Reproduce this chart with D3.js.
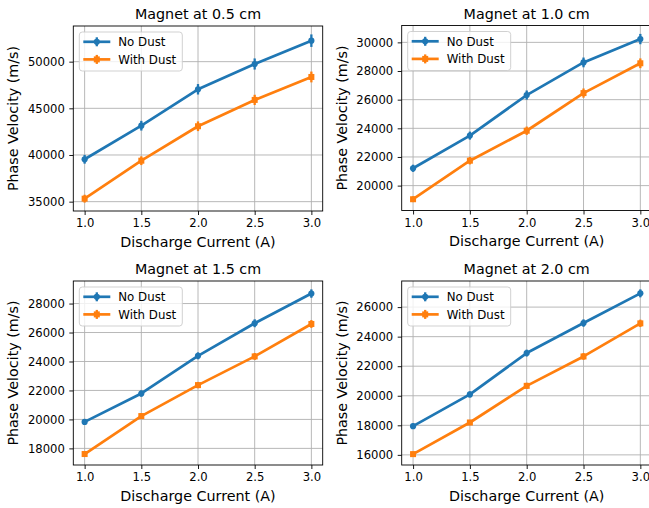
<!DOCTYPE html>
<html>
<head>
<meta charset="utf-8">
<script src="https://cdn.jsdelivr.net/npm/d3@7"></script>
<style>
  body { margin: 0; background: #fff; }
  svg { display: block; font-family: "DejaVu Sans", sans-serif; }
</style>
</head>
<body>
<svg id="chart" width="649" height="508"></svg>
<script>
// ---- data ----
const currents = [1.0, 1.5, 2.0, 2.5, 3.0];
const xTicks = [1.0, 1.5, 2.0, 2.5, 3.0];
const titles = ["Magnet at 0.5 cm", "Magnet at 1.0 cm", "Magnet at 1.5 cm", "Magnet at 2.0 cm"];
const seriesNames = ["No Dust", "With Dust"];

const noDust05   = [39540, 43140, 47040, 49750, 52250];
const withDust05 = [35320, 39390, 43080, 45900, 48360];
const errNoDust05   = [470, 520, 560, 600, 670];
const errWithDust05 = [420, 470, 520, 550, 580];

const noDust10   = [21210, 23490, 26320, 28600, 30230];
const withDust10 = [19050, 21740, 23830, 26460, 28540];
const errNoDust10   = [250, 280, 320, 340, 360];
const errWithDust10 = [200, 260, 290, 320, 340];

const noDust15   = [19830, 21790, 24390, 26640, 28690];
const withDust15 = [17610, 20230, 22370, 24350, 26590];
const errNoDust15   = [200, 220, 240, 270, 290];
const errWithDust15 = [180, 200, 220, 240, 270];

const noDust20   = [17940, 20090, 22890, 24920, 26930];
const withDust20 = [16050, 18190, 20670, 22660, 24900];
const errNoDust20   = [180, 200, 230, 250, 270];
const errWithDust20 = [170, 180, 210, 230, 250];

const yTicks05 = [35000, 40000, 45000, 50000];
const yTicks10 = [20000, 22000, 24000, 26000, 28000, 30000];
const yTicks15 = [18000, 20000, 22000, 24000, 26000, 28000];
const yTicks20 = [16000, 18000, 20000, 22000, 24000, 26000];

// ---- layout / style ----
const colors = ["#1f77b4", "#ff7f0e"];
const panels = [
  { title: titles[0], series: [[noDust05, errNoDust05], [withDust05, errWithDust05]], yTicks: yTicks05, left: 73.3, top: 26, width: 249.4, height: 185 },
  { title: titles[1], series: [[noDust10, errNoDust10], [withDust10, errWithDust10]], yTicks: yTicks10, left: 401.7, top: 25.5, width: 250, height: 185 },
  { title: titles[2], series: [[noDust15, errNoDust15], [withDust15, errWithDust15]], yTicks: yTicks15, left: 73.3, top: 281, width: 249.4, height: 184 },
  { title: titles[3], series: [[noDust20, errNoDust20], [withDust20, errWithDust20]], yTicks: yTicks20, left: 401.7, top: 281, width: 250, height: 184 }
];

const svg = d3.select("#chart");
const tickFont = 11.6, labelFont = 14.3, legendFont = 11.8;

panels.forEach(p => {
  const g = svg.append("g").attr("transform", `translate(${p.left},${p.top})`);
  const W = p.width, H = p.height;

  const xMin = d3.min(currents), xMax = d3.max(currents);
  const xPad = (xMax - xMin) * 0.05;
  const x = d3.scaleLinear().domain([xMin - xPad, xMax + xPad]).range([0, W]);

  let lo = Infinity, hi = -Infinity;
  p.series.forEach(([v, e]) => v.forEach((d, i) => { lo = Math.min(lo, d - e[i]); hi = Math.max(hi, d + e[i]); }));
  const yPad = (hi - lo) * 0.05;
  const y = d3.scaleLinear().domain([lo - yPad, hi + yPad]).range([H, 0]);

  // grid
  const grid = g.append("g");
  grid.selectAll(".gx").data(xTicks).enter().append("line")
    .attr("x1", d => x(d)).attr("x2", d => x(d)).attr("y1", 0).attr("y2", H)
    .attr("stroke", "#b0b0b0").attr("stroke-width", 0.9);
  grid.selectAll(".gy").data(p.yTicks).enter().append("line")
    .attr("y1", d => y(d)).attr("y2", d => y(d)).attr("x1", 0).attr("x2", W)
    .attr("stroke", "#b0b0b0").attr("stroke-width", 0.9);

  // axes
  const xAxis = d3.axisBottom(x).tickValues(xTicks).tickFormat(d3.format(".1f")).tickSize(4).tickPadding(4);
  const yAxis = d3.axisLeft(y).tickValues(p.yTicks).tickFormat(d3.format("d")).tickSize(4).tickPadding(4.5);
  const gx = g.append("g").attr("transform", `translate(0,${H})`).call(xAxis);
  const gy = g.append("g").call(yAxis);
  [gx, gy].forEach(a => {
    a.select(".domain").remove();
    a.selectAll(".tick line").attr("stroke", "#000").attr("stroke-width", 0.9);
    a.selectAll(".tick text").attr("fill", "#000").style("font-size", tickFont + "px").style("font-family", "DejaVu Sans");
  });

  // series
  const line = d3.line().x((d, i) => x(currents[i])).y(d => y(d));
  p.series.forEach(([v, e], si) => {
    const c = colors[si];
    const sg = g.append("g");
    sg.append("path").datum(v).attr("d", line).attr("fill", "none")
      .attr("stroke", c).attr("stroke-width", 2.7).attr("stroke-linejoin", "round");
    sg.selectAll(".eb").data(v).enter().append("line")
      .attr("x1", (d, i) => x(currents[i])).attr("x2", (d, i) => x(currents[i]))
      .attr("y1", (d, i) => y(d - e[i])).attr("y2", (d, i) => y(d + e[i]))
      .attr("stroke", c).attr("stroke-width", 2.3);
    if (si === 0) {
      sg.selectAll(".mk").data(v).enter().append("circle")
        .attr("cx", (d, i) => x(currents[i])).attr("cy", d => y(d)).attr("r", 3.1).attr("fill", c);
    } else {
      sg.selectAll(".mk").data(v).enter().append("rect")
        .attr("x", (d, i) => x(currents[i]) - 3).attr("y", d => y(d) - 3)
        .attr("width", 6).attr("height", 6).attr("fill", c);
    }
  });

  // spines
  g.append("rect").attr("x", 0).attr("y", 0).attr("width", W).attr("height", H)
    .attr("fill", "none").attr("stroke", "#000").attr("stroke-width", 0.9);

  // title and labels
  g.append("text").attr("x", W / 2).attr("y", -7).attr("text-anchor", "middle")
    .style("font-size", labelFont + "px").text(p.title);
  g.append("text").attr("x", W / 2).attr("y", H + 35.5).attr("text-anchor", "middle")
    .style("font-size", labelFont + "px").text("Discharge Current (A)");
  g.append("text").attr("transform", `translate(-55,${H / 2}) rotate(-90)`).attr("text-anchor", "middle")
    .style("font-size", labelFont + "px").text("Phase Velocity (m/s)");

  // legend
  const lg = g.append("g").attr("transform", "translate(6,6)");
  lg.append("rect").attr("x", 0).attr("y", 0).attr("width", 103).attr("height", 39)
    .attr("rx", 3).attr("fill", "#fff").attr("fill-opacity", 0.8)
    .attr("stroke", "#cccccc").attr("stroke-width", 0.9);
  seriesNames.forEach((name, si) => {
    const cy = 9.8 + si * 17.6;
    const c = colors[si];
    lg.append("line").attr("x1", 4).attr("x2", 31).attr("y1", cy).attr("y2", cy)
      .attr("stroke", c).attr("stroke-width", 2.7);
    lg.append("line").attr("x1", 17.5).attr("x2", 17.5).attr("y1", cy - 4.5).attr("y2", cy + 4.5)
      .attr("stroke", c).attr("stroke-width", 2.3);
    if (si === 0) lg.append("circle").attr("cx", 17.5).attr("cy", cy).attr("r", 3.1).attr("fill", c);
    else lg.append("rect").attr("x", 14.5).attr("y", cy - 3).attr("width", 6).attr("height", 6).attr("fill", c);
    lg.append("text").attr("x", 39).attr("y", cy).attr("dy", "0.36em")
      .style("font-size", legendFont + "px").text(name);
  });
});
</script>
</body>
</html>
